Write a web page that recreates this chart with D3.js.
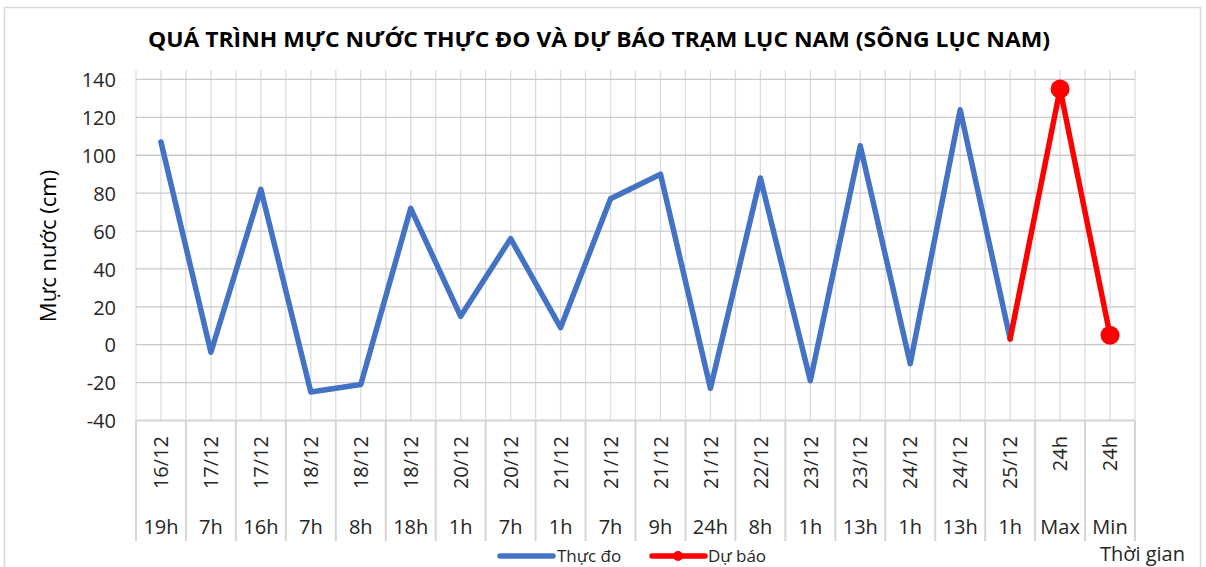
<!DOCTYPE html>
<html><head><meta charset="utf-8">
<script src="https://cdn.jsdelivr.net/npm/d3@7"></script>
<style>body{margin:0;background:#fff;} svg{display:block;font-family:"Open Sans",sans-serif;}</style>
</head><body>
<svg id="c" width="1206" height="567"></svg>
<script>
const dates = ["16/12","17/12","17/12","18/12","18/12","18/12","20/12","20/12","21/12","21/12","21/12","21/12","22/12","23/12","23/12","24/12","24/12","25/12","24h","24h"];
const hours = ["19h","7h","16h","7h","8h","18h","1h","7h","1h","7h","9h","24h","8h","1h","13h","1h","13h","1h","Max","Min"];
const observed = [107,-4,82,-25,-21,72,15,56,9,77,90,-23,88,-19,105,-10,124,3,null,null];
const forecast = [null,null,null,null,null,null,null,null,null,null,null,null,null,null,null,null,null,3,135,5];
const forecastMarkers = [false,false,false,false,false,false,false,false,false,false,false,false,false,false,false,false,false,false,true,true];
const yTicks = [-40,-20,0,20,40,60,80,100,120,140];
const title = "QUÁ TRÌNH MỰC NƯỚC THỰC ĐO VÀ DỰ BÁO TRẠM LỤC NAM (SÔNG LỤC NAM)";
const yTitle = "Mực nước (cm)";
const xTitle = "Thời gian";
const seriesNames = ["Thực đo","Dự báo"];

const svg = d3.select("#c");
const idx = d3.range(dates.length);
const x = d3.scaleBand().domain(idx).range([136,1135]).padding(0);
const bw = x.bandwidth();
const cx = i => x(i) + bw/2;
const y = d3.scaleLinear().domain([-40,145]).range([420.5,70]);
const txt = "#262626";

// outer border
svg.append("rect").attr("x",4.5).attr("y",7.5).attr("width",1196).attr("height",580)
  .attr("fill","none").attr("stroke","#d9d9d9").attr("stroke-width",1.5);

// vertical gridlines (boundaries and centres)
const vlines = [];
idx.forEach(i=>{ vlines.push(x(i)); vlines.push(cx(i)); });
vlines.push(1135);
svg.append("g").selectAll("line").data(vlines).join("line")
  .attr("x1",d=>d).attr("x2",d=>d).attr("y1",y(145)).attr("y2",y(-40))
  .attr("stroke","#dcdcdc").attr("stroke-width",1.3);

// horizontal gridlines
svg.append("g").selectAll("line").data(yTicks.filter(t=>t>-40)).join("line")
  .attr("x1",136).attr("x2",1135).attr("y1",d=>y(d)).attr("y2",d=>y(d))
  .attr("stroke","#c9c9c9").attr("stroke-width",1.3);

// y axis labels
const yAxis = d3.axisLeft(y).tickValues(yTicks).tickSize(0).tickPadding(0).tickFormat(d=>String(d));
const ya = svg.append("g").attr("transform","translate(116,0)").call(yAxis);
ya.select(".domain").remove();
ya.selectAll("text").attr("font-family","Open Sans").attr("font-size",20).attr("fill",txt).attr("dy","0.36em");

// x axis line and separators
svg.append("line").attr("x1",136).attr("x2",1135).attr("y1",y(-40)).attr("y2",y(-40))
  .attr("stroke","#d4d4d4").attr("stroke-width",2);
const seps = idx.map(i=>x(i)).concat([1135]);
svg.append("g").selectAll("line").data(seps).join("line")
  .attr("x1",d=>d).attr("x2",d=>d).attr("y1",y(-40)).attr("y2",541)
  .attr("stroke","#d6d6d6").attr("stroke-width",2);

// x labels
const xl = svg.append("g");
xl.selectAll("text.d").data(idx).join("text").attr("class","d")
  .attr("transform",i=>`translate(${cx(i)},436) rotate(-90)`)
  .attr("text-anchor","end").attr("dy","0.36em")
  .attr("font-size",20).attr("fill",txt).text(i=>dates[i]);
xl.selectAll("text.h").data(idx).join("text").attr("class","h")
  .attr("x",i=>cx(i)).attr("y",534).attr("text-anchor","middle")
  .attr("font-size",20).attr("fill",txt).text(i=>hours[i]);

// lines
const lineGen = d3.line().defined(d=>d.v!==null).x(d=>cx(d.i)).y(d=>y(d.v));
svg.append("path").datum(observed.map((v,i)=>({i,v})))
  .attr("d",lineGen).attr("fill","none").attr("stroke","#4472C4")
  .attr("stroke-width",5.5).attr("stroke-linejoin","round").attr("stroke-linecap","round");
svg.append("path").datum(forecast.map((v,i)=>({i,v})))
  .attr("d",lineGen).attr("fill","none").attr("stroke","#FF0000")
  .attr("stroke-width",5.5).attr("stroke-linejoin","round").attr("stroke-linecap","round");
svg.append("g").selectAll("circle").data(idx.filter(i=>forecastMarkers[i])).join("circle")
  .attr("cx",i=>cx(i)).attr("cy",i=>y(forecast[i])).attr("r",9.5).attr("fill","#FF0000");

// title
svg.append("text").attr("x",599).attr("y",47).attr("text-anchor","middle")
  .attr("font-size",21).attr("font-weight","bold").attr("fill","#000")
  .attr("textLength",902).attr("lengthAdjust","spacingAndGlyphs").text(title);

// y title
svg.append("text").attr("transform","translate(48,246) rotate(-90)")
  .attr("text-anchor","middle").attr("dy","0.36em")
  .attr("font-size",22).attr("fill","#000").text(yTitle);

// x title
svg.append("text").attr("x",1185).attr("y",561).attr("text-anchor","end")
  .attr("font-size",20).attr("fill",txt).text(xTitle);

// legend
const lg = svg.append("g");
lg.append("line").attr("x1",500).attr("x2",553).attr("y1",556).attr("y2",556)
  .attr("stroke","#4472C4").attr("stroke-width",5.5).attr("stroke-linecap","round");
lg.append("text").attr("x",557).attr("y",562).attr("font-size",17).attr("fill",txt).text(seriesNames[0]);
lg.append("line").attr("x1",652).attr("x2",705).attr("y1",556).attr("y2",556)
  .attr("stroke","#FF0000").attr("stroke-width",5.5).attr("stroke-linecap","round");
lg.append("circle").attr("cx",678).attr("cy",556).attr("r",5).attr("fill","#FF0000");
lg.append("text").attr("x",708).attr("y",562).attr("font-size",17).attr("fill",txt).text(seriesNames[1]);
</script>
</body></html>
